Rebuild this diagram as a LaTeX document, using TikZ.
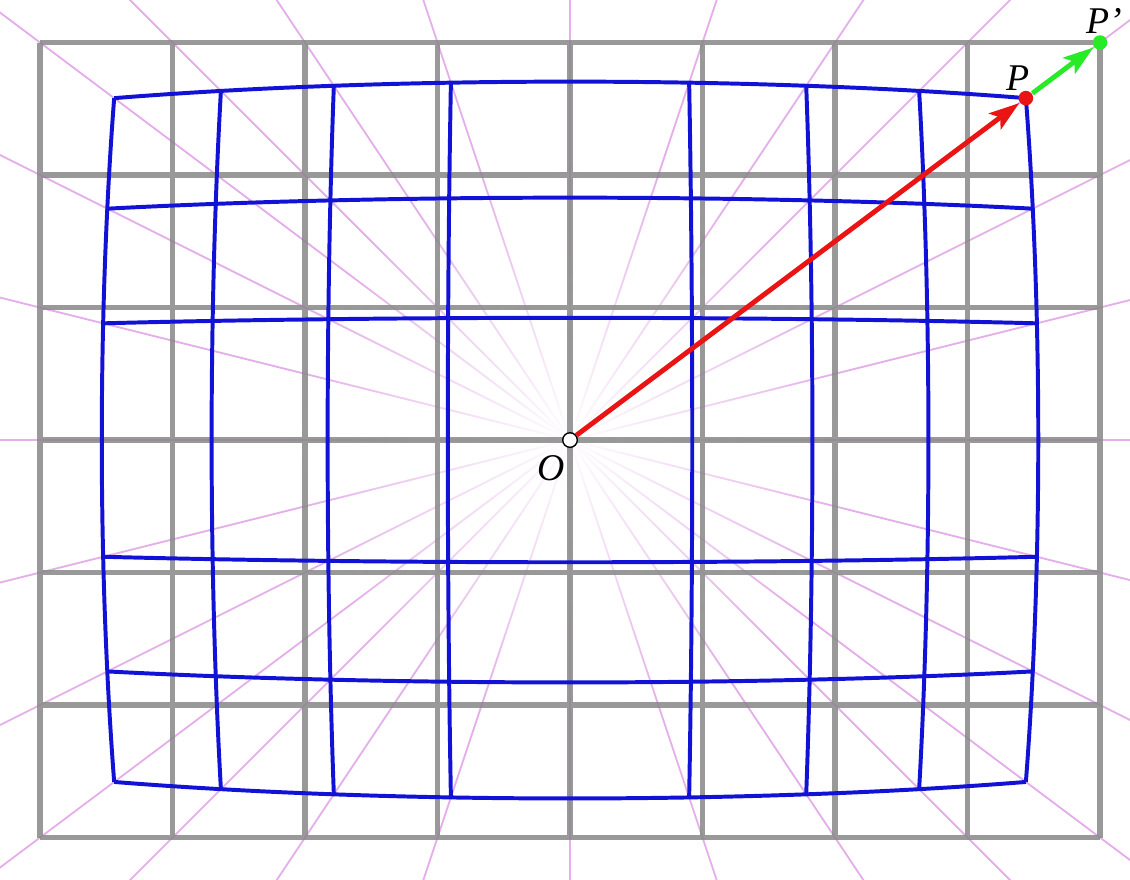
\documentclass[tikz,border=0pt]{standalone}
\usepackage{fontspec}
\setmainfont{Liberation Serif}
\usetikzlibrary{arrows.meta,fadings}
\definecolor{raypink}{RGB}{228,176,233}
\definecolor{gridgray}{RGB}{135,135,135}
\definecolor{warpblue}{RGB}{18,18,215}
\definecolor{vecred}{RGB}{235,20,20}
\definecolor{vecgreen}{RGB}{40,235,40}
\tikzfading[name=centerfade, inner color=transparent!0, outer color=transparent!100]
\tikzset{
  declare function={wx(\a,\b)=0.925*\a*(1-0.0028*(\a*\a+\b*\b));
                    wy(\a,\b)=0.925*\b*(1-0.0028*(\a*\a+\b*\b));}
}
\begin{document}
\begin{tikzpicture}[x=1cm,y=1cm,
  ray/.style={raypink, line width=0.4pt},
  gridline/.style={gridgray, line width=1.1pt, draw opacity=0.85},
  warp/.style={warpblue, line width=0.85pt, line join=round},
  vec/.style={line width=1.05pt, -{Stealth[length=2.3mm,width=1.5mm,inset=0.5mm]}},
  dot/.style={circle, inner sep=0pt, minimum size=1.1mm},
  lab/.style={font=\fontsize{8.1}{9.7}\selectfont\itshape, inner sep=0pt}]
  \useasboundingbox (-4.302,-3.313) rectangle (4.226,3.321);
  \begin{scope}
    \clip (-4.302,-3.313) rectangle (4.226,3.321);
    \foreach \i in {-4,...,4} {
      \draw[ray] (0,0) -- (2*\i,6);
      \draw[ray] (0,0) -- (2*\i,-6);
    }
    \foreach \j in {-2,...,2} {
      \draw[ray] (0,0) -- (-8,2*\j);
      \draw[ray] (0,0) -- (8,2*\j);
    }
  \end{scope}
  \fill[white, path fading=centerfade] (0,0) circle (2.1);
  \draw[gridline] (-4,-3) grid (4,3);
  \foreach \j in {-3,-2,-1,1,2,3}
    \draw[warp] plot[domain=-4:4, samples=41, smooth] ({wx(\x,\j)}, {wy(\x,\j)});
  \foreach \i in {-4,-3,-2,-1,1,2,3,4}
    \draw[warp] plot[domain=-3:3, samples=31, smooth] ({wx(\i,\x)}, {wy(\i,\x)});
  \node[dot, fill=white, draw=black, line width=0.3pt] (O) at (0,0) {};
  \node[dot, fill=vecred] (P) at ({wx(4,3)},{wy(4,3)}) {};
  \node[dot, fill=vecgreen] (Pp) at (4,3) {};
  \draw[vec, vecred] (O) -- (P);
  \draw[vec, vecgreen] (P) -- (Pp);
  \node[lab] (Olab) at (-0.14,-0.21) {O};
  \node[lab] (Plab) at (3.38,2.73) {P};
  \node[lab] (Pplab) at (4.03,3.16) {P’};
\end{tikzpicture}
\end{document}
